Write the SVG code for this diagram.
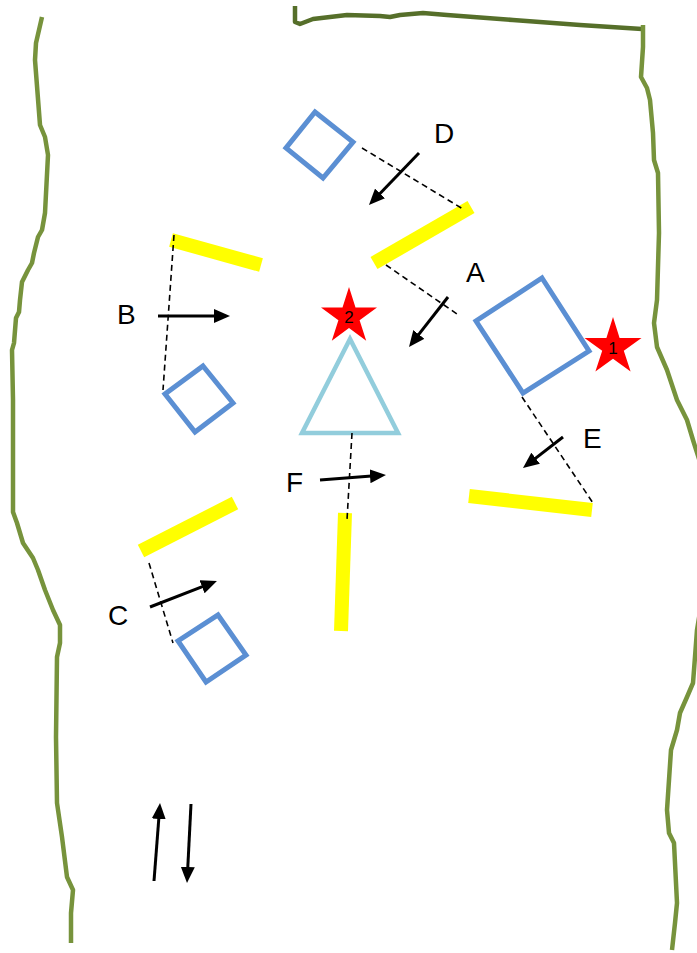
<svg xmlns="http://www.w3.org/2000/svg" width="697" height="953" viewBox="0 0 697 953">
<style>
.bank{fill:none;stroke:#77933C;stroke-width:4.5;stroke-linejoin:round;stroke-linecap:butt}
.top{fill:none;stroke:#566F2A;stroke-width:4.5;stroke-linejoin:round}
.sq{fill:none;stroke:#5B8FD3;stroke-width:5;stroke-linejoin:miter}
.tri{fill:none;stroke:#92CDDC;stroke-width:4.5}
.bar{stroke:#FFFF00;stroke-width:14;stroke-linecap:butt}
.dash{stroke:#000;stroke-width:1.6;stroke-dasharray:6 4;fill:none}
.arr{stroke:#000;stroke-width:3;fill:none;marker-end:url(#ah)}
.lbl{font-family:"Liberation Sans",Arial,sans-serif;font-size:28px;fill:#000}
.star{fill:#FF0000}
.num{font-family:"Liberation Sans",Arial,sans-serif;font-size:17px;fill:#000;text-anchor:middle}
</style>
<defs>
<marker id="ah" markerUnits="userSpaceOnUse" markerWidth="16" markerHeight="14" refX="8" refY="7" orient="auto">
<path d="M0,0 L16,7 L0,14 z" fill="#000"/>
</marker>
</defs>
<rect width="697" height="953" fill="#fff"/>
<g id="banks">
<polyline class="bank" points="42,17 36,43 35,60 40,125 45,137 48,155 45,213 42,230 38,237 34,253 32,263 28,270 22,282 20,300 19,312 16,318 14,343 12,350 13,400 13,470 13,512 17,523 23,543 33,558 38,570 45,590 53,610 60,625 60,643 57,657 56,737 57,803 62,837 67,877 73,890 71,913 71,943"/>
<polyline class="top" points="295,6 295,22 300,24 313,19 347,15 380,16 390,17 400,15 423,13 447,15 513,20 580,25 642,29"/>
<polyline class="bank" points="643,25 643,47 641,77 647,88 650,100 653,133 654,160 658,173 659,233 657,300 654,323 657,347 667,370 677,400 687,420 693,440 700,462 705,540 700,612 697,630 695,657 693,683 687,697 680,713 677,730 671,750 667,810 669,833 674,843 677,903 675,923 672,950"/>
</g>
<g id="square-d"><polygon class="sq" points="315,112 353,142 323,178 286,148"/></g>
<g id="square-big"><polygon class="sq" points="542,278 589,351 523,393 476,321"/></g>
<g id="square-b"><polygon class="sq" points="203,366 233,403 195,432 165,394"/></g>
<g id="square-c"><polygon class="sq" points="218,615 246,655 206,682 178,641"/></g>
<g id="triangle"><polygon class="tri" points="350,339 302,433 398,433"/></g>
<g id="bars">
<line class="bar" x1="374" y1="263" x2="471" y2="207"/>
<line class="bar" x1="171" y1="240" x2="261" y2="265"/>
<line class="bar" x1="469" y1="496" x2="592" y2="510"/>
<line class="bar" x1="141" y1="551" x2="235" y2="503"/>
<line class="bar" x1="345" y1="513" x2="341" y2="631"/>
</g>
<g id="star-1">
<polygon class="star" points="613,317 619.6,337.9 641.5,337.9 623.8,350.8 630.6,371.6 613,358.7 595.4,371.6 602.2,350.8 584.5,337.9 606.4,337.9"/>
<text class="num" x="613" y="354">1</text>
</g>
<g id="star-2">
<polygon class="star" points="349,287 355.5,307.5 377,307.5 359.6,320.2 366.2,340.7 349,328 331.8,340.7 338.4,320.2 321,307.5 342.5,307.5"/>
<text class="num" x="349" y="323">2</text>
</g>
<g id="connectors">
<line class="dash" x1="362" y1="148" x2="463" y2="209"/>
<line class="dash" x1="386" y1="265" x2="457" y2="314"/>
<line class="dash" x1="522" y1="397" x2="593" y2="503"/>
<line class="dash" x1="174" y1="235" x2="163" y2="390"/>
<line class="dash" x1="149" y1="563" x2="173" y2="643"/>
<line class="dash" x1="352" y1="433" x2="347" y2="520"/>
<line class="arr" x1="419" y1="153" x2="374.5" y2="199.2"/>
<line class="arr" x1="448" y1="297" x2="413.9" y2="340.7"/>
<line class="arr" x1="563" y1="437" x2="529.3" y2="463.1"/>
<line class="arr" x1="158" y1="316" x2="222" y2="316"/>
<line class="arr" x1="320" y1="480" x2="378" y2="475.6"/>
<line class="arr" x1="150" y1="607" x2="209.5" y2="583.9"/>
<line class="arr" x1="154" y1="881" x2="159.4" y2="811"/>
<line class="arr" x1="191" y1="804" x2="187.4" y2="875"/>
</g>
<g id="labels">
<text class="lbl" x="434" y="143">D</text>
<text class="lbl" x="466" y="282">A</text>
<text class="lbl" x="583" y="448">E</text>
<text class="lbl" x="117" y="324">B</text>
<text class="lbl" x="286" y="492">F</text>
<text class="lbl" x="108" y="625">C</text>
</g>
</svg>
